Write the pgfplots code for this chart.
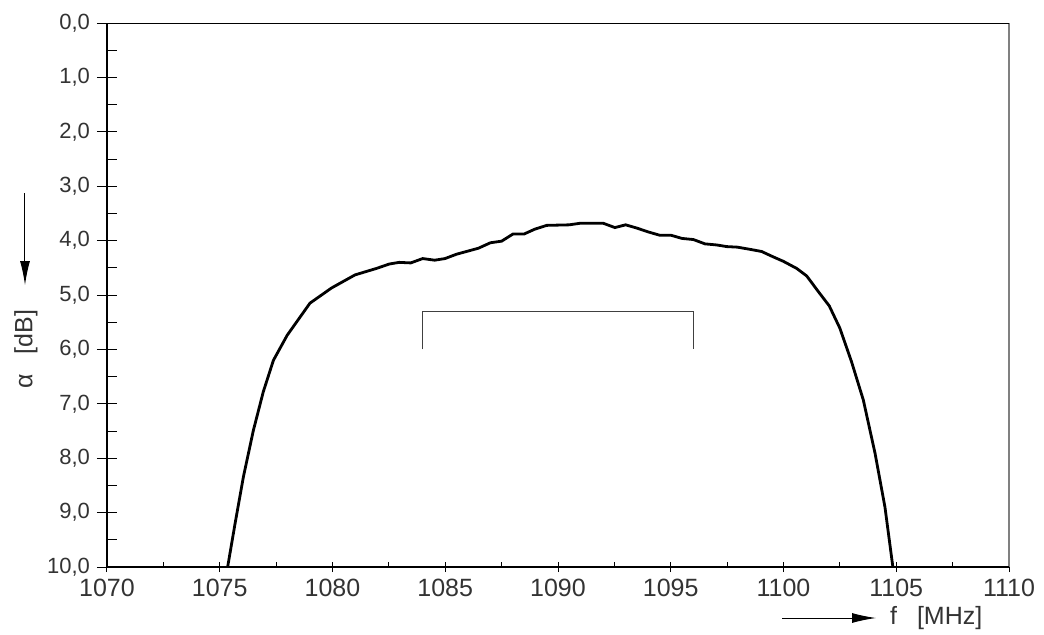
\documentclass[border=0pt]{standalone}
\usepackage{pgfplots}
\pgfplotsset{compat=1.18}
\usepackage{fontspec}
\setmainfont{Liberation Sans}
\usetikzlibrary{arrows.meta}

\begin{document}
\begin{tikzpicture}
\pgfplotsset{
  base/.style={
    at={(0,0)}, anchor=south west,
    scale only axis, width=451pt, height=272pt,
    xmin=1070, xmax=1110, ymin=0, ymax=10, y dir=reverse,
    axis line style={draw=none},
    tick pos=left,
    tick style={black, line width=0.5pt},
    /pgf/number format/assume math mode=true,
    /pgf/number format/1000 sep={},
    clip=false,
  }
}
% y axis: ticks and labels only
\begin{axis}[base,
  xtick=\empty,
  ytick={0,...,10},
  ytick align=center, major tick length=10pt,
  extra y ticks={0.5,1.5,...,9.5}, extra y tick labels={},
  extra y tick style={ytick align=inside, major tick length=5pt},
  yticklabel style={font=\fontsize{11}{13}\selectfont, color=black!80,
    /pgf/number format/.cd, fixed, fixed zerofill, precision=1, use comma},
]
\end{axis}
% x axis and data
\begin{axis}[base,
  ytick=\empty,
  xtick={1070,1075,...,1110},
  xtick align=center, major tick length=5pt,
  extra x ticks={1072.5,1077.5,...,1107.5}, extra x tick labels={},
  extra x tick style={xtick align=inside, major tick length=2.5pt},
  xticklabel style={font=\fontsize{12.5}{14}\selectfont, color=black!80},
]
\addplot[black, line width=1.4pt] coordinates {
  (1075.35,10.0) (1075.68,9.20) (1076.05,8.34) (1076.49,7.49) (1076.93,6.78)
  (1077.38,6.20) (1077.99,5.74) (1079.00,5.15) (1079.96,4.87) (1081.00,4.63)
  (1081.96,4.51) (1082.52,4.43) (1082.96,4.40) (1083.47,4.41) (1084.00,4.33)
  (1084.53,4.36) (1084.99,4.33) (1085.50,4.25) (1086.47,4.14) (1087.00,4.04)
  (1087.50,4.01) (1088.00,3.88) (1088.49,3.88) (1088.97,3.79) (1089.50,3.72)
  (1090.50,3.71) (1091.00,3.68) (1092.00,3.68) (1092.52,3.76) (1093.00,3.71)
  (1093.50,3.77) (1094.00,3.84) (1094.50,3.90) (1095.00,3.90) (1095.50,3.96)
  (1096.00,3.98) (1096.52,4.06) (1097.04,4.08) (1097.48,4.11) (1097.95,4.12)
  (1098.51,4.16) (1099.03,4.20) (1099.55,4.30) (1099.99,4.38) (1100.58,4.51)
  (1101.03,4.65) (1101.55,4.94) (1102.03,5.20) (1102.50,5.61) (1103.02,6.23)
  (1103.54,6.93) (1104.06,7.91) (1104.50,8.90) (1104.85,10.0)
};
% bracket
\addplot[black!75, line width=0.5pt] coordinates {
  (1084,6.0) (1084,5.3) (1096,5.3) (1096,6.0)
};
\end{axis}
% frame
\draw[black!50, line width=0.8pt] (451pt,0) -- (451pt,272pt);
\draw[black, line width=0.5pt] (0,272pt) -- (451pt,272pt);
\draw[black, line width=1pt] (0,272pt) -- (0,0) -- (451pt,0);
% axis labels with arrows
\draw[line width=0.5pt, -{Latex[length=12pt,width=5pt]}] (-41pt,187pt) -- (-41pt,141pt);
\node[rotate=90, font=\fontsize{12.5}{14}\selectfont, text=black!80] at (-40.5pt,109pt) {α\hspace{0.8em}[dB]};
\draw[line width=0.5pt, -{Latex[length=12pt,width=5pt]}] (337.5pt,-25.5pt) -- (384.5pt,-25.5pt);
\node[anchor=west, font=\fontsize{12.5}{14}\selectfont, text=black!80] at (388pt,-25.5pt) {f\hspace{0.8em}[MHz]};
\pgfresetboundingbox
\path (-53.5pt,-33.5pt) rectangle (468.5pt,283.5pt);
\end{tikzpicture}
\end{document}
